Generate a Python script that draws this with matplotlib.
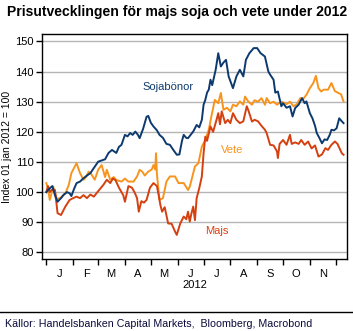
import matplotlib
matplotlib.use("Agg")
import matplotlib.pyplot as plt
import matplotlib.dates as mdates
import numpy as np

# day offsets from 1 Jan 2012, index (1 jan 2012 = 100)
soja_days = [0, 3, 7, 10, 13, 17, 20, 24, 27, 29, 32, 35, 39, 43, 47, 51, 55, 60, 64, 68,
             72, 76, 81, 84, 87, 91, 94, 97, 100, 103, 106, 108, 112, 116, 118, 121, 124,
             128, 131, 135, 139, 143, 147, 151, 154, 157, 159, 162, 164, 167, 170, 174, 177,
             180, 182, 184, 186, 188, 190, 192, 196, 199, 202, 205, 208, 211, 216, 220, 224,
             228, 231, 235, 240, 244, 248, 253, 257, 259, 263, 265, 268, 272, 274, 278, 282,
             285, 288, 292, 296, 299, 301, 305, 308, 311, 313, 316, 319, 322, 325, 328, 330,
             333, 336, 339, 342, 344]
soja = [100, 101, 102, 99, 96.8, 98, 99.1, 100, 99.6, 98.7, 101, 103, 103.5, 104.6, 105.5,
        106.3, 108, 110.1, 110.5, 110.9, 113, 114, 113, 115, 115.7, 119, 118.5, 119.6, 119,
        120.1, 119, 117.9, 121, 125, 125.3, 123, 121.8, 120.5, 119, 118, 116, 115.7, 114,
        112.4, 112.5, 117, 119, 118, 117.9, 119, 120.1, 122.3, 121.5, 124, 129, 130.6, 133,
        134, 137.3, 135.5, 140.6, 146.1, 141.7, 143, 143.9, 138.4, 134.5, 138.4, 140.6, 138.4,
        143.9, 146.1, 147.8, 147.8, 146.1, 145, 140, 139, 137.3, 133, 133.4, 128.5, 129.5,
        128, 128.5, 125.1, 127.9, 129, 131.2, 129.5, 130.1, 126.2, 124.5, 122, 119.6, 118,
        116.2, 117.5, 117.3, 119, 120.7, 120.5, 121.2, 124.5, 123.5, 122.9]

vete_days = [0, 2, 4, 8, 12, 16, 22, 26, 29, 32, 35, 39, 43, 46, 49, 52, 56, 60, 64, 68, 70,
             74, 78, 81, 87, 91, 95, 101, 105, 108, 111, 114, 118, 122, 124, 126, 127, 128,
             131, 135, 139, 143, 149, 153, 159, 164, 166, 168, 172, 176, 180, 184, 188, 191,
             195, 199, 202, 205, 209, 213, 216, 220, 224, 228, 230, 234, 238, 241, 245, 249,
             253, 255, 259, 263, 267, 272, 278, 282, 286, 290, 294, 297, 301, 305, 309, 312,
             315, 318, 321, 326, 330, 334, 338, 341, 344]
vete = [103, 101, 97.4, 101.8, 97.8, 98, 99.6, 102.4, 106.3, 108, 109.6, 106.3, 104.1, 105,
        106.8, 106, 104.1, 107.4, 109, 105, 107.4, 104.1, 105, 104, 103.5, 104.5, 103.5,
        103.5, 105.2, 107.4, 106.8, 105.5, 106.8, 107.5, 109, 107.5, 112.9, 106, 97.4, 98,
        103.5, 105.2, 105.2, 103, 103, 100.7, 101.8, 104, 108.5, 109.6, 115.1, 117.3, 120.7,
        125.1, 130.6, 129.5, 132.9, 127.3, 128, 126.8, 129, 128.5, 130.1, 129, 131.7, 130,
        129, 130.5, 130, 131.2, 129, 131.2, 129.5, 130, 129, 130, 129.2, 130, 128.5, 129.2,
        131.2, 130.8, 132.3, 134.5, 136.2, 138.6, 134.5, 133.4, 134, 134, 136.2, 133.5,
        132.9, 132.5, 130.1]

majs_days = [0, 2, 4, 6, 10, 13, 17, 22, 27, 31, 35, 39, 43, 47, 51, 55, 58, 62, 66, 70, 74,
             77, 80, 84, 87, 89, 91, 95, 99, 102, 105, 107, 110, 113, 116, 120, 124, 128, 130,
             132, 134, 137, 141, 145, 149, 151, 155, 159, 162, 164, 166, 168, 170, 172, 174,
             177, 180, 182, 184, 186, 190, 193, 197, 199, 201, 203, 207, 210, 213, 216, 220,
             224, 228, 232, 234, 238, 241, 245, 249, 253, 255, 259, 263, 267, 268, 270, 274,
             278, 282, 284, 288, 292, 295, 299, 303, 307, 311, 315, 319, 323, 326, 330, 334,
             337, 342, 344]
majs = [100, 102, 100, 100.7, 100.7, 93, 92.4, 95.2, 97.4, 98, 98.5, 98, 99, 98, 99.2, 98.5,
        99.6, 101, 102.4, 104.1, 103, 104.5, 104, 101.5, 100, 99, 96.8, 102, 101.5, 100, 98,
        93.5, 97, 96.5, 97.4, 101.5, 103, 102, 99, 95.7, 93.5, 95, 89.6, 89.5, 86.9, 85.8,
        89.6, 91.9, 91, 93.5, 90.2, 93, 95.2, 90.7, 98, 101.3, 105.2, 112.9, 118.4, 117,
        121.8, 120, 124, 126.2, 122.5, 126.8, 122.9, 124, 122.9, 126.2, 124, 122.9, 123.5,
        128.5, 127, 123.4, 124, 123.5, 122, 120.7, 119.6, 115.7, 115.5, 113.5, 111.3, 116,
        117.3, 115.7, 119, 116, 116.5, 116, 117.3, 115.7, 116.8, 114.5, 115.5, 111.8, 112.5,
        114.6, 114, 115.7, 116.8, 116, 112.9, 112.4]

month_labels = ["J", "F", "M", "A", "M", "J", "J", "A", "S", "O", "N"]

start = np.datetime64("2012-01-01")


def to_dates(days):
    return start + np.array(days).astype("timedelta64[D]")


plt.rcParams["font.family"] = ["Liberation Sans", "DejaVu Sans"]

fig = plt.figure(figsize=(3.53, 3.31), dpi=100)
ax = fig.add_axes([0.119, 0.2175, 0.864, 0.68])

navy = "#0d3a6e"
orange = "#f7941d"
red = "#d4400f"

ax.plot(to_dates(vete_days), vete, color=orange, lw=1.4)
ax.plot(to_dates(majs_days), majs, color=red, lw=1.4)
ax.plot(to_dates(soja_days), soja, color=navy, lw=1.4)

ax.set_ylim(77.8, 152.5)
ax.set_yticks(range(80, 151, 10))
ax.set_xlim(np.datetime64("2011-12-27"), np.datetime64("2012-12-14"))

ax.grid(axis="y", color="#b5b5b5", lw=1)
ax.set_axisbelow(True)

ax.xaxis.set_major_locator(mdates.MonthLocator(bymonth=range(1, 13)))
ax.xaxis.set_major_formatter(plt.NullFormatter())
mid = [np.datetime64("2012-%02d-16" % m) for m in range(1, 12)]
ax.set_xticks(mdates.date2num(mid), minor=True)
ax.set_xticklabels(month_labels, minor=True)
ax.tick_params(axis="x", which="minor", length=0, labelsize=8, pad=7)
ax.tick_params(axis="x", which="major", length=4, width=1, direction="out")
ax.tick_params(axis="y", length=4, width=1, labelsize=8, pad=2)

for s in ax.spines.values():
    s.set_linewidth(1)
    s.set_color("black")

ax.set_xlabel("2012", fontsize=8, labelpad=1)
ax.set_ylabel("Index 01 jan 2012 = 100", fontsize=7.5, labelpad=2)

ax.text(to_dates([141])[0], 134.8, "Sojabönor", color=navy, fontsize=8,
        ha="center", va="center")
ax.text(to_dates([215])[0], 114, "Vete", color=orange, fontsize=8,
        ha="center", va="center")
ax.text(to_dates([197])[0], 87.1, "Majs", color=red, fontsize=8,
        ha="center", va="center")

fig.text(0.02, 0.963, "Prisutvecklingen för majs soja och vete under 2012",
         fontsize=10.1, fontweight="bold", ha="left", va="center")
fig.add_artist(plt.Line2D([0, 1], [1 - 311.7 / 331, 1 - 311.7 / 331],
                          color="black", lw=1))
fig.text(0.014, 1 - 324 / 331, "Källor: Handelsbanken Capital Markets,  Bloomberg, Macrobond",
         fontsize=7.7, color="#0a0a3c", ha="left", va="center")

fig.savefig("out.png", dpi=100)
